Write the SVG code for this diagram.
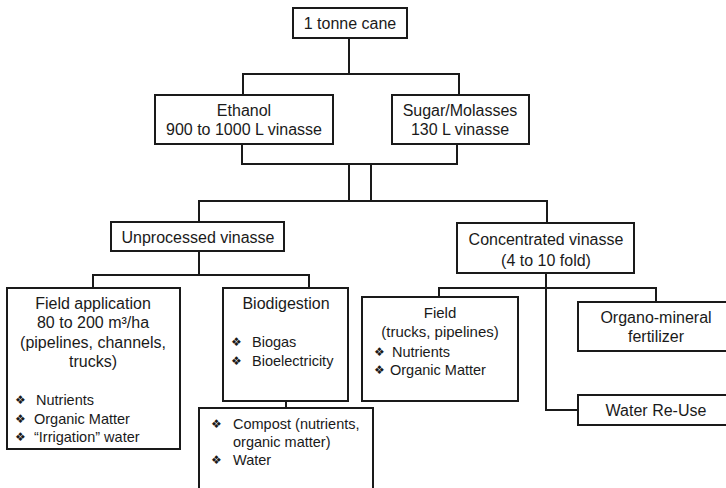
<svg xmlns="http://www.w3.org/2000/svg" width="726" height="488" viewBox="0 0 726 488">
<style>
.box{fill:#fff;stroke:#1a1a1a;stroke-width:2}
.ln{fill:none;stroke:#1a1a1a;stroke-width:2}
text{font-family:"Liberation Sans",Arial,sans-serif;font-size:16px;fill:#1a1a1a}
.c{text-anchor:middle}
.s{font-size:14.5px}
.m{font-size:15px}
.b{font-family:"DejaVu Sans",sans-serif;font-size:12px}
</style>
<rect width="726" height="488" fill="#fff"/>
<g id="connectors">
<path class="ln" d="M349 38V74M243 95V74H459V95"/>
<path class="ln" d="M242 144V164H457V144"/>
<path class="ln" d="M349 164V201M371 164V201"/>
<path class="ln" d="M199 222V201H547V223"/>
<path class="ln" d="M199 251V275M93 288V275H309V288"/>
<path class="ln" d="M286 401V408"/>
<path class="ln" d="M546 273V410H578"/>
<path class="ln" d="M439 297V288H656V302"/>
</g>
<g id="cane">
<rect class="box" x="293" y="8" width="114" height="30"/>
<text class="c" x="350" y="29">1 tonne cane</text>
</g>
<g id="ethanol">
<rect class="box" x="155" y="95" width="178" height="49"/>
<text class="c" x="244" y="116">Ethanol</text>
<text class="c" x="244" y="135">900 to 1000 L vinasse</text>
</g>
<g id="sugar">
<rect class="box" x="392" y="95" width="137" height="49"/>
<text class="c" x="460" y="116">Sugar/Molasses</text>
<text class="c" x="460" y="135">130 L vinasse</text>
</g>
<g id="unprocessed">
<rect class="box" x="111" y="222" width="173" height="29"/>
<text class="c" x="198" y="243">Unprocessed vinasse</text>
</g>
<g id="concentrated">
<rect class="box" x="457" y="223" width="177" height="50"/>
<text class="c" x="546" y="245">Concentrated vinasse</text>
<text class="c" x="546" y="266">(4 to 10 fold)</text>
</g>
<g id="field-application">
<rect class="box" x="7" y="288" width="173" height="161"/>
<text class="c" x="93" y="309">Field application</text>
<text class="c" x="93" y="328">80 to 200 m³/ha</text>
<text class="c" x="93" y="348">(pipelines, channels,</text>
<text class="c" x="93" y="367">trucks)</text>
<text class="b" x="15" y="404">❖</text><text class="s" x="36" y="405">Nutrients</text>
<text class="b" x="15" y="423">❖</text><text class="s" x="34" y="424">Organic Matter</text>
<text class="b" x="15" y="441">❖</text><text class="s" x="34" y="442">“Irrigation” water</text>
</g>
<g id="biodigestion">
<rect class="box" x="223" y="288" width="125" height="113"/>
<text class="c" x="286" y="309">Biodigestion</text>
<text class="b" x="231" y="346">❖</text><text class="s" x="252" y="347">Biogas</text>
<text class="b" x="231" y="365">❖</text><text class="s" x="252" y="366">Bioelectricity</text>
</g>
<g id="compost">
<rect class="box" x="199" y="408" width="174" height="90"/>
<text class="b" x="211" y="428">❖</text><text class="s" x="233" y="429">Compost (nutrients,</text>
<text class="s" x="233" y="447">organic matter)</text>
<text class="b" x="211" y="464">❖</text><text class="s" x="233" y="465">Water</text>
</g>
<g id="field">
<rect class="box" x="362" y="297" width="156" height="104"/>
<text class="c m" x="440" y="318">Field</text>
<text class="c m" x="440" y="337">(trucks, pipelines)</text>
<text class="b" x="374" y="356">❖</text><text class="s" x="392" y="357">Nutrients</text>
<text class="b" x="374" y="374">❖</text><text class="s" x="390" y="375">Organic Matter</text>
</g>
<g id="organo-mineral">
<rect class="box" x="578" y="302" width="160" height="49"/>
<text class="c" x="656" y="323">Organo-mineral</text>
<text class="c" x="656" y="342">fertilizer</text>
</g>
<g id="water-reuse">
<rect class="box" x="578" y="395" width="160" height="30"/>
<text class="c" x="656" y="416">Water Re-Use</text>
</g>
</svg>
